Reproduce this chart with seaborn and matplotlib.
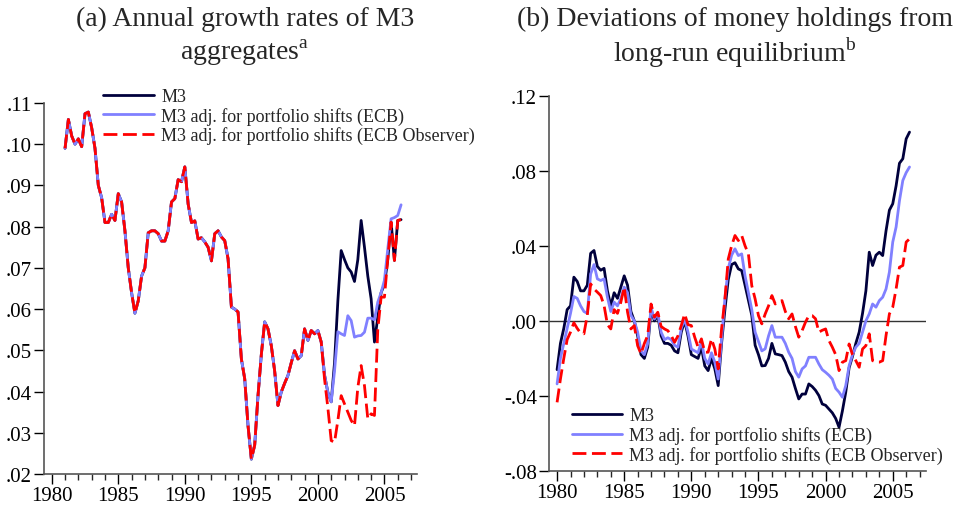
import numpy as np
import pandas as pd
import matplotlib
matplotlib.use('Agg')
import matplotlib.pyplot as plt
from matplotlib.ticker import FuncFormatter, MultipleLocator
import seaborn as sns

# (a) annual growth of M3, quarterly 1981Q1 - 2000Q2 (all three series coincide)
growth_common = [
    .099, .106, .102, .100,
    .1013, .0994, .1074, .1078,
    .104, .099, .090, .087,
    .081, .081, .083, .0815,
    .088, .086, .079, .070,
    .064, .059, .062, .068,
    .070, .0785, .079, .079,
    .0783, .0765, .0765, .079,
    .086, .0868, .0914, .0909,
    .0945, .0855, .081, .0814,
    .077, .0773, .0763, .075,
    .0717, .0783, .079, .0775,
    .0766, .0722, .0605, .060,
    .0593, .0479, .0431, .0317,
    .0236, .027, .039, .049,
    .0569, .0552, .0511, .045,
    .0366, .0399, .042, .0439,
    .047, .0499, .0479, .0487,
    .0552, .0524, .0548, .054,
    .0548, .052,
]
# 2000Q3 - 2006Q2
growth_m3_tail = [.044, .0398,
                  .0375, .047, .062, .0742,
                  .072, .070, .069, .0667,
                  .072, .0815, .075, .068,
                  .0625, .052, .058, .064,
                  .066, .072, .0811, .0718,
                  .0815, .0817]
growth_ecb_tail = [.044, .0398,
                   .0375, .045, .0545, .054,
                   .0536, .0584, .0572, .0532,
                   .0535, .0536, .0544, .0578,
                   .0578, .0574, .0617, .064,
                   .067, .0746, .0819, .0822,
                   .0827, .0853]
growth_obs_tail = [.043, .036,
                   .0281, .0277, .033, .039,
                   .037, .035, .033, .0317,
                   .041, .0463, .0414, .0334,
                   .0346, .0342, .055, .0629,
                   .0629, .0722, .0811, .0718,
                   .0815, .0817]

# (b) deviations from long-run equilibrium, quarterly 1980Q1 - 2006Q2
dev_m3 = [
    -.026, -.012, -.004, .006,
    .008, .0233, .021, .016,
    .016, .019, .036, .0375,
    .029, .027, .028, .016,
    .008, .015, .012, .018,
    .024, .019, .005, .000,
    -.008, -.018, -.020, -.014,
    .006, .000, .003, -.008,
    -.012, -.012, -.013, -.016,
    -.017, -.006, .000, -.008,
    -.018, -.019, -.020, -.014,
    -.024, -.0265, -.020, -.0256,
    -.0345, -.012, .006, .022,
    .030, .031, .0277, .0268,
    .019, .011, .003, -.013,
    -.018, -.024, -.0238, -.020,
    -.012, -.0176, -.018, -.0185,
    -.022, -.027, -.030, -.036,
    -.0416, -.039, -.039, -.0336,
    -.035, -.037, -.0398, -.0443,
    -.045, -.047, -.049, -.052,
    -.0567, -.048, -.038, -.025,
    -.019, -.012, -.006, .004,
    .016, .0366, .0295, .035,
    .0366, .0348, .048, .059,
    .0624, .072, .084, .0864,
    .097, .1006,
]
dev_ecb = [
    -.0336, -.020, -.012, -.004,
    .004, .013, .012, .008,
    .005, .004, .025, .030,
    .0224, .0215, .0224, .0126,
    .005, .010, .008, .012,
    .018, .015, .003, .000,
    -.006, -.016, -.018, -.012,
    .007, .001, .004, -.006,
    -.010, -.009, -.010, -.013,
    -.014, -.004, .001, -.006,
    -.015, -.016, -.017, -.011,
    -.020, -.023, -.017, -.022,
    -.031, -.010, .012, .028,
    .035, .0384, .0348, .0357,
    .024, .015, .006, -.006,
    -.011, -.016, -.0149, -.008,
    -.0025, -.0087, -.0087, -.0087,
    -.012, -.0167, -.020, -.027,
    -.030, -.0256, -.024, -.0194,
    -.0194, -.0194, -.023, -.026,
    -.0274, -.029, -.031, -.036,
    -.038, -.0407, -.0345, -.024,
    -.018, -.014, -.012, -.006,
    .000, .0037, .009, .0073,
    .0108, .0126, .017, .026,
    .042, .050, .064, .0748,
    .079, .082,
]
dev_obs = [
    -.0434, -.031, -.020, -.010,
    -.006, -.001, -.004, -.0065,
    -.0069, .003, .0197, .017,
    .0153, .0135, .0082, -.002,
    -.0043, .006, .004, .010,
    .018, .0046, -.0043, -.0025,
    -.0132, -.0176, -.012, -.0078,
    .009, .002, .0046, -.003,
    -.0043, -.0052, -.0078, -.0114,
    -.008, -.0025, .0037, -.002,
    -.0025, -.0087, -.014, -.0096,
    -.0167, -.0167, -.0096, -.015,
    -.0256, -.0043, .0117, .033,
    .040, .0455, .0428, .0455,
    .040, .0357, .0188, .0117,
    .0028, -.0016, .0037, .008,
    .0135, .009, .010, .0108,
    .005, .0011, .0037, -.003,
    -.0087, -.0052, -.0007, .0028,
    .0028, .0011, -.006, -.005,
    -.0043, -.0105, -.014, -.018,
    -.0265, -.022, -.0212, -.0123,
    -.018, -.0212, -.0247, -.015,
    -.0132, -.0069, -.0212, -.022,
    -.022, -.0212, -.0078, .0037,
    .0073, .017, .0286, .0295,
    .042, .0437,
]

series_labels = ['M3',
                 'M3 adj. for portfolio shifts (ECB)',
                 'M3 adj. for portfolio shifts (ECB Observer)']
colors = ['#00003c', '#8080ff', '#ff0000']
styles = ['-', '-', (0, (5, 2))]

# quarter dates
q_a = 1981 + np.arange(len(growth_common) + len(growth_m3_tail)) / 4
q_b = 1980 + np.arange(len(dev_m3)) / 4

panel_a = [growth_common + growth_m3_tail,
           growth_common + growth_ecb_tail,
           growth_common + growth_obs_tail]
panel_b = [dev_m3, dev_ecb, dev_obs]

sns.set_theme(style='ticks')
plt.rcParams['font.family'] = ['Liberation Serif', 'DejaVu Serif']
plt.rcParams['mathtext.fontset'] = 'custom'
plt.rcParams['mathtext.rm'] = 'Liberation Serif'

fig = plt.figure(figsize=(9.76, 5.06), dpi=100)
ax1 = fig.add_axes([0.0451, 0.0613, 0.3822, 0.7332])
ax2 = fig.add_axes([0.5628, 0.0672, 0.3856, 0.7417])

ax2.axhline(0, color='#333333', lw=1.0, zorder=0)

for ax, xs, data in [(ax1, q_a, panel_a), (ax2, q_b, panel_b)]:
    for vals, lab, col, ls in zip(data, series_labels, colors, styles):
        sns.lineplot(x=xs, y=vals, ax=ax, color=col, lw=2.0,
                     linestyle=ls, label=lab)

fmt = FuncFormatter(lambda v, p: f"{v:.2f}".replace("0.", "."))
for ax in (ax1, ax2):
    sns.despine(ax=ax)
    ax.set_xlim(1979.42, 2007.45)
    ax.xaxis.set_major_locator(MultipleLocator(5))
    ax.xaxis.set_minor_locator(MultipleLocator(1))
    ax.yaxis.set_major_formatter(fmt)
    ax.tick_params(axis='both', which='major', direction='out', length=7,
                   width=1, labelsize=15, colors='black', pad=2)
    ax.tick_params(axis='x', which='minor', direction='out', length=4, width=1)
    for s in ax.spines.values():
        s.set_color('#555555')
        s.set_linewidth(1.2)
    ax.set_xlabel('')
    ax.set_ylabel('')

ax1.set_ylim(0.02, 0.11)
ax1.yaxis.set_major_locator(MultipleLocator(0.01))
ax2.set_ylim(-0.08, 0.12)
ax2.yaxis.set_major_locator(MultipleLocator(0.04))

ax1.legend(frameon=False, loc='upper left', bbox_to_anchor=(0.14, 1.06),
           fontsize=13, handlelength=2.8, labelspacing=0.1,
           borderaxespad=0, handletextpad=0.4)
ax2.legend(frameon=False, loc='lower left', bbox_to_anchor=(0.04, 0.0),
           fontsize=13, handlelength=2.8, labelspacing=0.1,
           borderaxespad=0, handletextpad=0.4)

# panel titles
fig.text(0.251, 0.962, '(a) Annual growth rates of M3', ha='center',
         va='center', fontsize=20)
fig.text(0.251, 0.895, r'aggregates$^{\mathrm{a}}$', ha='center',
         va='center', fontsize=20)
fig.text(0.753, 0.962, '(b) Deviations of money holdings from', ha='center',
         va='center', fontsize=20)
fig.text(0.753, 0.895, r'long-run equilibrium$^{\mathrm{b}}$', ha='center',
         va='center', fontsize=20)

fig.savefig('out.png', dpi=100)
